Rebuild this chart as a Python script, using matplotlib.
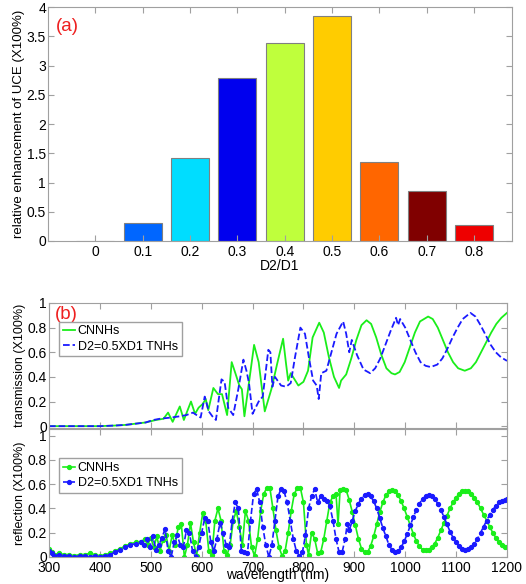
import numpy as np
import matplotlib
matplotlib.use("Agg")
import matplotlib.pyplot as plt

plt.rcParams["font.family"] = ["Liberation Sans", "DejaVu Sans"]
plt.rcParams["font.size"] = 10

# (a) relative enhancement of UCE vs D2/D1
ratio = [0, 0.1, 0.2, 0.3, 0.4, 0.5, 0.6, 0.7, 0.8]
enhance = [0, 0.30, 1.42, 2.79, 3.39, 3.85, 1.35, 0.85, 0.27]
bar_colors = ["#0040ff", "#0066ff", "#00ddff", "#0000ee", "#bfff3c",
              "#ffcc00", "#ff6600", "#800000", "#ee0000"]

# (b) transmission, CNNHs
t_cnnh_wl = [300, 350, 400, 430, 450, 470, 490, 510, 525, 534, 543, 557, 565,
             579, 587, 594, 602, 608, 613, 623, 632, 640, 650, 659, 667, 674,
             679, 684, 703, 712, 724, 737, 748, 760, 766, 770, 775, 790, 800,
             809, 818, 831, 840, 850, 860, 870, 874, 884, 894, 904, 914, 924,
             933, 943, 953, 963, 973, 980, 989, 999, 1009, 1019, 1029, 1045,
             1054, 1064, 1074, 1084, 1094, 1104, 1117, 1129, 1139, 1149, 1159,
             1169, 1179, 1189, 1200]
t_cnnh = [0, 0, 0, 0.005, 0.01, 0.02, 0.03, 0.05, 0.06, 0.11, 0.035, 0.16, 0.05,
          0.2, 0.1, 0.15, 0.18, 0.22, 0.13, 0.31, 0.26, 0.26, 0.09, 0.52, 0.42,
          0.33, 0.3, 0.08, 0.66, 0.52, 0.12, 0.3, 0.5, 0.71, 0.5, 0.37, 0.43,
          0.33, 0.36, 0.45, 0.72, 0.84, 0.76, 0.56, 0.4, 0.31, 0.37, 0.42, 0.55,
          0.7, 0.82, 0.86, 0.83, 0.72, 0.58, 0.47, 0.43, 0.42, 0.44, 0.52, 0.64,
          0.76, 0.85, 0.89, 0.87, 0.8, 0.7, 0.6, 0.52, 0.47, 0.45, 0.47, 0.52,
          0.6, 0.68, 0.76, 0.83, 0.88, 0.92]

# (b) transmission, D2=0.5XD1 TNHs
t_tnh_wl = [300, 400, 430, 450, 470, 490, 505, 518, 540, 557, 570, 583, 590,
            598, 606, 614, 621, 628, 639, 645, 652, 662, 672, 682, 688, 693,
            700, 712, 720, 731, 735, 739, 744, 756, 766, 775, 783, 794, 803,
            811, 819, 826, 830, 835, 845, 855, 865, 878, 884, 890, 895, 905,
            918, 931, 941, 951, 961, 971, 982, 986, 990, 1000, 1010, 1020,
            1030, 1040, 1050, 1063, 1073, 1083, 1093, 1103, 1113, 1128, 1138,
            1148, 1158, 1168, 1178, 1188, 1200]
t_tnh = [0, 0, 0.005, 0.01, 0.02, 0.03, 0.05, 0.06, 0.07, 0.08, 0.09, 0.11,
         0.09, 0.07, 0.24, 0.12, 0.08, 0.05, 0.38, 0.36, 0.15, 0.09, 0.3, 0.54,
         0.45, 0.35, 0.1, 0.2, 0.24, 0.62, 0.6, 0.32, 0.4, 0.33, 0.32, 0.35,
         0.55, 0.8, 0.75, 0.55, 0.37, 0.33, 0.22, 0.43, 0.45, 0.6, 0.75, 0.85,
         0.75, 0.6, 0.7, 0.58, 0.46, 0.43, 0.47, 0.55, 0.66, 0.77, 0.88, 0.82,
         0.87, 0.8, 0.7, 0.6, 0.52, 0.49, 0.48, 0.5, 0.55, 0.63, 0.72, 0.8,
         0.87, 0.92, 0.89, 0.82, 0.74, 0.66, 0.6, 0.56, 0.53]

# (b) reflection, CNNHs
r_cnnh_wl = [300, 305, 310, 320, 330, 340, 350, 360, 370, 380, 390, 400, 410,
             420, 430, 440, 450, 460, 470, 480, 488, 494, 500, 506, 512, 518,
             524, 530, 536, 542, 548, 554, 560, 566, 572, 578, 584, 590, 596,
             602, 608, 614, 620, 626, 632, 638, 644, 650, 656, 662, 668, 674,
             680, 686, 692, 698, 704, 710, 716, 722, 728, 734, 740, 746, 752,
             758, 764, 770, 776, 782, 788, 794, 800, 806, 810, 816, 822, 828,
             834, 840, 846, 852, 858, 864, 868, 872, 878, 884, 890, 896, 902,
             908, 914, 920, 926, 932, 938, 944, 950, 956, 962, 968, 974, 980,
             986, 992, 998, 1004, 1010, 1016, 1022, 1028, 1034, 1040, 1046,
             1052, 1058, 1064, 1070, 1076, 1082, 1088, 1094, 1100, 1106, 1112,
             1118, 1124, 1130, 1136, 1142, 1148, 1154, 1160, 1166, 1172, 1178,
             1184, 1190, 1196, 1200]
r_cnnh = [0.07, 0.04, 0.02, 0.03, 0.02, 0.02, 0.01, 0.02, 0.02, 0.03, 0.02,
          0.01, 0.02, 0.03, 0.05, 0.07, 0.09, 0.11, 0.12, 0.12, 0.15, 0.1, 0.16,
          0.08, 0.17, 0.05, 0.14, 0.18, 0.05, 0.18, 0.1, 0.25, 0.27, 0.0, 0.1,
          0.28, 0.12, 0.01, 0.2, 0.36, 0.3, 0.05, 0.02, 0.3, 0.4, 0.3, 0.05,
          0.02, 0.1, 0.3, 0.38, 0.25, 0.1, 0.38, 0.3, 0.08, 0.01, 0.15, 0.38,
          0.52, 0.57, 0.57, 0.4, 0.22, 0.08, 0.01, 0.05, 0.2, 0.38, 0.52, 0.57,
          0.57, 0.45, 0.1, 0.02, 0.2, 0.15, 0.03, 0.04, 0.15, 0.3, 0.45, 0.5,
          0.52, 0.27, 0.55, 0.56, 0.55, 0.47, 0.37, 0.26, 0.15, 0.07, 0.04,
          0.04, 0.09, 0.17, 0.27, 0.37, 0.45, 0.51, 0.54, 0.55, 0.54, 0.51,
          0.46, 0.4, 0.33, 0.26, 0.19, 0.13, 0.09, 0.06, 0.06, 0.06, 0.08, 0.11,
          0.16, 0.22, 0.28, 0.34, 0.4, 0.45, 0.49, 0.52, 0.54, 0.54, 0.54, 0.52,
          0.49, 0.45, 0.4, 0.35, 0.3, 0.25, 0.2, 0.16, 0.12, 0.1, 0.08, 0.08]

# (b) reflection, D2=0.5XD1 TNHs
r_tnh_wl = [300, 305, 310, 320, 330, 340, 350, 360, 370, 380, 390, 400, 410,
            420, 430, 440, 450, 460, 470, 480, 486, 492, 498, 504, 510, 516,
            522, 528, 534, 540, 546, 552, 558, 564, 570, 576, 582, 588, 594,
            600, 606, 612, 618, 624, 630, 636, 642, 648, 654, 660, 666, 672,
            678, 684, 690, 696, 702, 708, 714, 720, 726, 732, 738, 744, 750,
            756, 762, 768, 774, 780, 786, 792, 798, 804, 810, 816, 822, 828,
            834, 840, 846, 852, 858, 864, 870, 876, 882, 886, 890, 896, 902,
            908, 914, 920, 926, 932, 938, 944, 950, 956, 962, 968, 974, 980,
            986, 992, 998, 1004, 1010, 1016, 1022, 1028, 1034, 1040, 1046,
            1052, 1058, 1064, 1070, 1076, 1082, 1088, 1094, 1100, 1106, 1112,
            1118, 1124, 1130, 1136, 1142, 1148, 1154, 1160, 1166, 1172, 1178,
            1184, 1190, 1196, 1200]
r_tnh = [0.05, 0.03, 0.01, 0.02, 0.01, 0.01, 0.0, 0.01, 0.01, 0.0, 0.01, 0.0,
         0.01, 0.02, 0.04, 0.06, 0.08, 0.1, 0.11, 0.12, 0.1, 0.15, 0.08, 0.17,
         0.06, 0.1, 0.16, 0.23, 0.05, 0.0, 0.12, 0.18, 0.1, 0.08, 0.22, 0.2,
         0.05, 0.0, 0.08, 0.2, 0.32, 0.3, 0.12, 0.05, 0.15, 0.28, 0.2, 0.1,
         0.08, 0.3, 0.45, 0.4, 0.05, 0.04, 0.03, 0.3, 0.52, 0.56, 0.45, 0.25,
         0.1, 0.0, 0.1, 0.3, 0.5, 0.56, 0.54, 0.45, 0.3, 0.15, 0.05, 0.01,
         0.04, 0.18, 0.4, 0.5, 0.56, 0.45, 0.5, 0.48, 0.46, 0.42, 0.3, 0.15,
         0.04, 0.04, 0.15, 0.27, 0.22, 0.3, 0.38, 0.44, 0.48, 0.51, 0.52, 0.5,
         0.46, 0.4, 0.32, 0.24, 0.17, 0.1, 0.06, 0.04, 0.05, 0.08, 0.13, 0.19,
         0.26, 0.33, 0.39, 0.44, 0.48, 0.5, 0.51, 0.5, 0.48, 0.44, 0.39, 0.33,
         0.27, 0.21, 0.16, 0.12, 0.09, 0.07, 0.06, 0.07, 0.08, 0.11, 0.15, 0.2,
         0.25, 0.3, 0.35, 0.39, 0.42, 0.45, 0.46, 0.47, 0.48]

GREEN = "#1aee1a"
BLUE = "#1a1aff"
EDGE = "#a0a0a0"
RED = "#ee2020"


def matlab_axes(ax):
    # grey box with inward ticks on all four sides, as in MATLAB
    for sp in ax.spines.values():
        sp.set_color(EDGE)
        sp.set_linewidth(0.8)
    ax.tick_params(direction="in", top=True, right=True, length=4,
                   color=EDGE, labelsize=10)
    ax.tick_params(axis="y", pad=1.5)
    ax.tick_params(axis="x", pad=3)


def fmt(v):
    return f"{v:g}"


def add_legend(ax, anchor):
    ax.legend(loc="upper left", bbox_to_anchor=anchor, fontsize=9,
              frameon=True, fancybox=False, edgecolor=EDGE, framealpha=1,
              handlelength=1.0, handletextpad=0.2, borderpad=0.3,
              labelspacing=0.25, borderaxespad=0)


fig = plt.figure(figsize=(5.26, 5.84), dpi=100)

# panel (a)
ax_a = fig.add_axes([48 / 526, 1 - 241 / 584, 464 / 526, 234 / 584])
ax_a.bar(ratio, enhance, width=0.08, color=bar_colors, edgecolor="#808080",
         linewidth=0.8)
ax_a.set_xlim(-0.1, 0.88)
ax_a.set_ylim(0, 4)
ax_a.set_xticks(ratio)
ax_a.set_xticklabels([fmt(v) for v in ratio])
yt = np.arange(0, 4.01, 0.5)
ax_a.set_yticks(yt)
ax_a.set_yticklabels([fmt(v) for v in yt])
ax_a.set_xlabel("D2/D1", labelpad=0)
ax_a.set_ylabel("relative enhancement of UCE (X100%)", fontsize=9.5,
                labelpad=1)
matlab_axes(ax_a)
ax_a.text(0.016, 0.955, "(a)", transform=ax_a.transAxes, color=RED,
          fontsize=13.5, va="top", ha="left")

# panel (b) transmission
ax_t = fig.add_axes([49 / 526, 1 - 428 / 584, 458 / 526, 125 / 584])
ax_t.plot(t_cnnh_wl, t_cnnh, color=GREEN, lw=1.3, label="CNNHs")
ax_t.plot(t_tnh_wl, t_tnh, color=BLUE, lw=1.3, ls="--", label="D2=0.5XD1 TNHs")
ax_t.set_xlim(300, 1200)
ax_t.set_ylim(-0.015, 1)
ax_t.set_xticks(np.arange(300, 1201, 100))
ax_t.set_xticklabels([])
ytb = np.arange(0, 1.01, 0.2)
ax_t.set_yticks(ytb)
ax_t.set_yticklabels([fmt(round(v, 1)) for v in ytb])
ax_t.set_ylabel("transmission (X100%)", fontsize=9, labelpad=1)
matlab_axes(ax_t)
add_legend(ax_t, (0.022, 0.85))
ax_t.text(0.013, 0.975, "(b)", transform=ax_t.transAxes, color=RED,
          fontsize=13.5, va="top", ha="left")

# panel (b) reflection
ax_r = fig.add_axes([49 / 526, 1 - 557 / 584, 458 / 526, 128 / 584])
ax_r.plot(r_cnnh_wl, r_cnnh, color=GREEN, lw=1.2, marker="o", ms=2.8,
          label="CNNHs")
ax_r.plot(r_tnh_wl, r_tnh, color=BLUE, lw=1.2, ls="--", marker="o", ms=2.8,
          label="D2=0.5XD1 TNHs")
ax_r.set_xlim(300, 1200)
ax_r.set_ylim(0, 1.055)
ax_r.set_xticks(np.arange(300, 1201, 100))
ax_r.set_yticks(ytb)
ax_r.set_yticklabels([fmt(round(v, 1)) for v in ytb])
ax_r.set_xlabel("wavelength (nm)", labelpad=-5)
ax_r.set_ylabel("reflection (X100%)", fontsize=9, labelpad=1)
matlab_axes(ax_r)
add_legend(ax_r, (0.022, 0.77))

fig.savefig("out.png", dpi=100)
